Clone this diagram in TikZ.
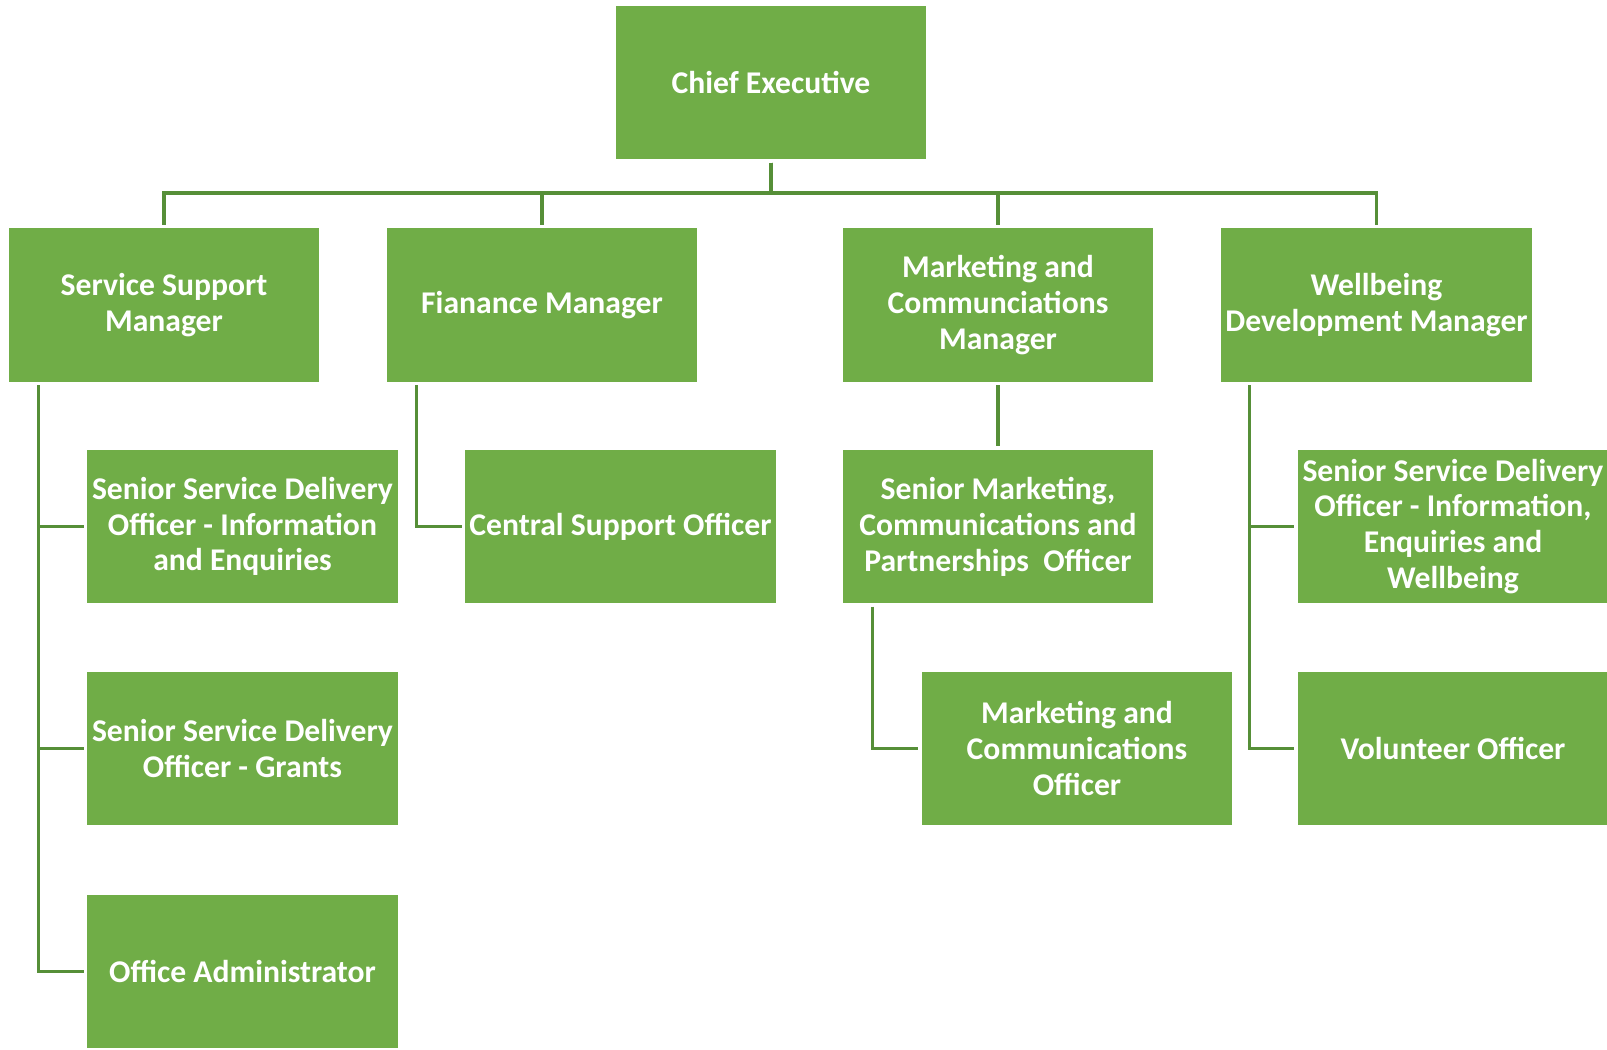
\documentclass[tikz,border=0pt]{standalone}
\usepackage{fontspec}
\setmainfont{Carlito}
\definecolor{boxgreen}{HTML}{70AD47}
\definecolor{linegreen}{HTML}{568F38}

\tikzset{
  post/.style={fill=boxgreen, text=white, font=\bfseries\fontsize{9}{10.2}\selectfont,
    minimum width=3.1cm, minimum height=1.53cm, inner sep=0pt, align=center},
  link/.style={draw=linegreen, line width=0.9pt, shorten <=0.8pt, shorten >=0.8pt}
}

\begin{document}
\begin{tikzpicture}[x=0.01cm, y=-0.01cm]
                \useasboundingbox (0,0) rectangle (1607,1049);
                \node[post] (CE) at (771,82.5) {Chief Executive};
                \node[post] (SSM) at (164,305) {Service Support\\Manager};
                \node[post] (FM) at (542,305) {Fianance Manager};
                \node[post] (MCM) at (998,305) {Marketing and\\Communciations\\Manager};
                \node[post] (WDM) at (1376.5,305) {Wellbeing\\Development Manager};
                \node[post] (SSDOI) at (242.5,526.5) {Senior Service Delivery\\Officer - Information\\and Enquiries};
                \node[post] (CSO) at (620.5,526.5) {Central Support Officer};
                \node[post] (SMCPO) at (998,526.5) {Senior Marketing,\\Communications and\\Partnerships\ \ Officer};
                \node[post] (SSDOW) at (1453,526.5) {Senior Service Delivery\\Officer - Information,\\Enquiries and\\Wellbeing};
                \node[post] (SSDOG) at (242.5,748.5) {Senior Service Delivery\\Officer - Grants};
                \node[post] (MCO) at (1077,748.5) {Marketing and\\Communications\\Officer};
                \node[post] (VO) at (1453,748.5) {Volunteer Officer};
                \node[post] (OA) at (242.5,971.5) {Office Administrator};
                \coordinate (bus) at (0,193);
                \foreach \m in {SSM,FM,MCM,WDM}
                  \draw[link] (CE.south) -- (CE.south |- bus) -| (\m.north);
                \foreach \s in {SSDOI,SSDOG,OA}
                  \draw[link] ([xshift=0.3cm]SSM.south west) |- (\s.west);
                \draw[link] ([xshift=0.3cm]FM.south west) |- (CSO.west);
                \draw[link] (MCM.south) -- (SMCPO.north);
                \draw[link] ([xshift=0.3cm]SMCPO.south west) |- (MCO.west);
                \foreach \s in {SSDOW,VO}
                  \draw[link] ([xshift=0.29cm]WDM.south west) |- (\s.west);
            \end{tikzpicture}
\end{document}
